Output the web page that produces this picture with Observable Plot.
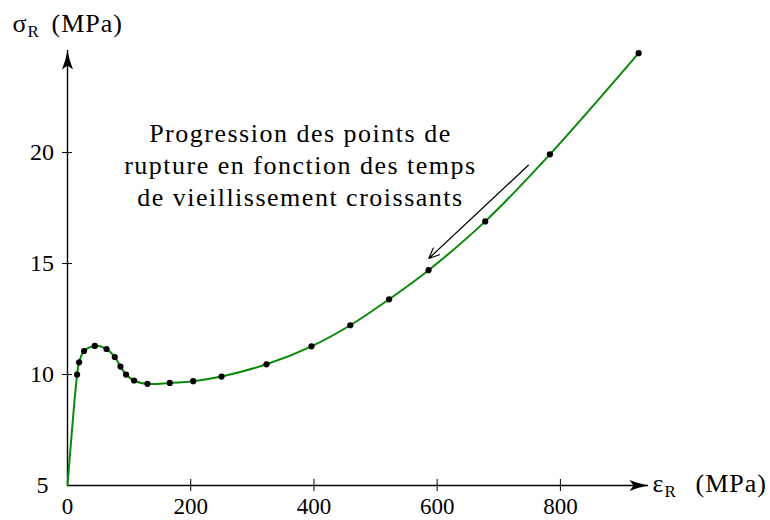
<!DOCTYPE html>
<html>
<head>
<meta charset="utf-8">
<script src="https://cdn.jsdelivr.net/npm/d3@7"></script>
<script src="https://cdn.jsdelivr.net/npm/@observablehq/plot@0.6"></script>
<style>
  html, body { margin: 0; padding: 0; background: white; }
  svg text { font-family: "Liberation Serif", serif; }
  .note text { letter-spacing: 1.5px; }
  .title text { letter-spacing: 1px; }
</style>
</head>
<body>
<div id="chart"></div>
<script>
// Measured rupture points (ε_R, σ_R)
const epsR = [15.6, 18.8, 26.9, 44.3, 63.3, 76.7, 86, 95, 108, 129.8, 166, 204, 250, 323, 396, 459, 522, 586, 678, 783, 927];
const sigmaR = [10.0, 10.55, 11.06, 11.29, 11.15, 10.79, 10.36, 10.0, 9.73, 9.58, 9.62, 9.70, 9.91, 10.46, 11.27, 12.22, 13.39, 14.70, 16.9, 19.92, 24.48];
// Curve origin
const originX = [0];
const originY = [5];
// Axes
const xDomain = [0, 943];
const yDomain = [5, 24.6];
const xTicks = [0, 200, 400, 600, 800];
const xTickMarks = [200, 400, 600, 800];
const yTicks = [10, 15, 20];
const yOriginLabel = ["5"];
// Annotation
const noteLines = ["Progression des points de", "rupture en fonction des temps", "de vieillissement croissants"];
const notePos = [378, 19.5];
const noteArrow = [{x1: 748, y1: 19.43, x2: 586.5, y2: 15.23}];

const points = epsR.map((x, i) => ({x, y: sigmaR[i]}));
const curve = [...originX.map((x, i) => ({x, y: originY[i]})), ...points];

const SERIF = "Liberation Serif";

function stealth(len, half, notch) {
  return {
    draw(ctx) {
      ctx.moveTo(0, 0);
      ctx.quadraticCurveTo(half * 0.35, len * 0.55, half, len);
      ctx.lineTo(0, notch);
      ctx.lineTo(-half, len);
      ctx.quadraticCurveTo(-half * 0.35, len * 0.55, 0, 0);
      ctx.closePath();
    }
  };
}
const head = stealth(19, 5.5, 15);

const chart = Plot.plot({
  width: 770,
  height: 520,
  marginLeft: 67,
  marginRight: 122,
  marginTop: 50,
  marginBottom: 35,
  x: {domain: xDomain},
  y: {domain: yDomain},
  style: "font-family: 'Liberation Serif', serif; background: white; color: black;",
  marks: [
    // axis lines
    Plot.ruleY([yDomain[0]], {x1: xDomain[0], x2: xDomain[1], stroke: "black", strokeWidth: 1.4}),
    Plot.ruleX([xDomain[0]], {y1: yDomain[0], y2: yDomain[1], stroke: "black", strokeWidth: 1.4}),
    Plot.dot([{x: xDomain[1], y: yDomain[0]}], {x: "x", y: "y", symbol: head, rotate: 90, fill: "black", stroke: "none"}),
    Plot.dot([{x: xDomain[0], y: yDomain[1]}], {x: "x", y: "y", symbol: head, rotate: 0, fill: "black", stroke: "none"}),
    // tick marks crossing the axes
    Plot.ruleX(xTickMarks, {y1: yDomain[0], y2: yDomain[0], insetTop: -6, insetBottom: -6, stroke: "black", strokeWidth: 1}),
    Plot.ruleY(yTicks, {x1: xDomain[0], x2: xDomain[0], insetLeft: -5, insetRight: -5, stroke: "black", strokeWidth: 1}),
    // tick labels
    Plot.axisX({ticks: xTicks, tickSize: 0, tickPadding: 12, fontSize: 23, fontFamily: SERIF, label: null, tickFormat: d => String(d)}),
    Plot.axisY({ticks: yTicks, tickSize: 0, tickPadding: 13.5, fontSize: 24, fontFamily: SERIF, label: null, tickFormat: d => String(d)}),
    Plot.text(yOriginLabel, {x: xDomain[0], y: yDomain[0], text: d => d, textAnchor: "end", dx: -19, fontSize: 24, fontFamily: SERIF}),
    // axis titles
    Plot.text(["σ"], {x: xDomain[0], y: yDomain[1], text: d => d, textAnchor: "start", lineAnchor: "bottom", dx: -55, dy: -19, fontSize: 26, fontFamily: SERIF}),
    Plot.text(["R"], {x: xDomain[0], y: yDomain[1], text: d => d, textAnchor: "start", lineAnchor: "bottom", dx: -40, dy: -14, fontSize: 17, fontFamily: SERIF}),
    Plot.text(["(MPa)"], {x: xDomain[0], y: yDomain[1], text: d => d, textAnchor: "start", lineAnchor: "bottom", dx: -16, dy: -19, fontSize: 26, fontFamily: SERIF, className: "title"}),
    Plot.text(["ε"], {x: xDomain[1], y: yDomain[0], text: d => d, textAnchor: "start", lineAnchor: "bottom", dx: 4, dy: 6, fontSize: 26, fontFamily: SERIF}),
    Plot.text(["R"], {x: xDomain[1], y: yDomain[0], text: d => d, textAnchor: "start", lineAnchor: "bottom", dx: 16, dy: 11, fontSize: 17, fontFamily: SERIF}),
    Plot.text(["(MPa)"], {x: xDomain[1], y: yDomain[0], text: d => d, textAnchor: "start", lineAnchor: "bottom", dx: 47, dy: 6, fontSize: 26, fontFamily: SERIF, className: "title"}),
    // curve and points
    Plot.line(curve, {x: "x", y: "y", curve: "catmull-rom", stroke: "#0a8a0a", strokeWidth: 2}),
    Plot.dot(points, {x: "x", y: "y", r: 3.1, fill: "black", stroke: "none"}),
    // annotation
    Plot.text([noteLines.join("\n")], {x: notePos[0], y: notePos[1], text: d => d, textAnchor: "middle", lineAnchor: "middle", lineHeight: 1.23, fontSize: 26, fontFamily: SERIF, className: "note"}),
    Plot.arrow(noteArrow, {x1: "x1", y1: "y1", x2: "x2", y2: "y2", stroke: "black", strokeWidth: 1.2, headLength: 14, headAngle: 48})
  ]
});
document.getElementById("chart").appendChild(chart);
</script>
</body>
</html>
